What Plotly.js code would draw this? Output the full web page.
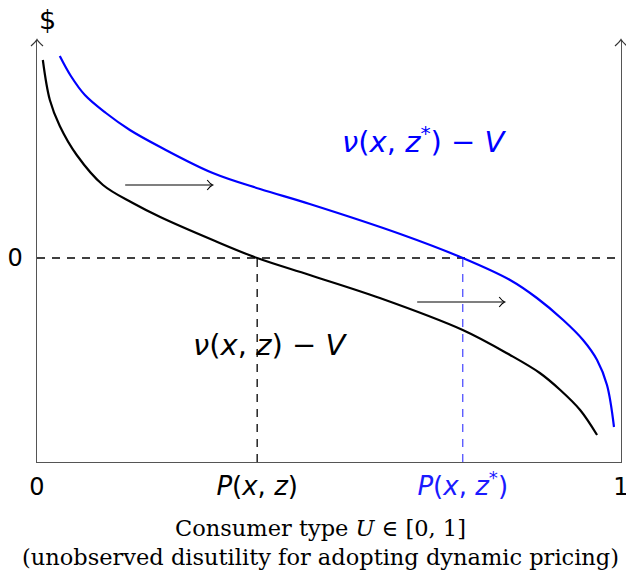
<!DOCTYPE html>
<html>
<head>
<meta charset="utf-8">
<script src="https://cdn.plot.ly/plotly-3.0.1.min.js"></script>
<style>html,body{margin:0;padding:0;background:#fff;}#chart{width:626px;height:582px;}</style>
</head>
<body>
<div id="chart"></div>
<script>
// Consumer type U (0..1) and value (arbitrary units, 0 = break-even)
var baseU   = [0.010, 0.022, 0.039, 0.068, 0.113, 0.164, 0.211, 0.301, 0.377, 0.467, 0.587, 0.729, 0.810, 0.861, 0.896, 0.930, 0.959];
var baseVal = [1.98, 1.58, 1.32, 1.03, 0.73, 0.55, 0.41, 0.18, 0.00, -0.17, -0.40, -0.72, -0.97, -1.15, -1.32, -1.52, -1.77];
var shiftU   = [0.039, 0.058, 0.082, 0.118, 0.159, 0.211, 0.301, 0.382, 0.467, 0.622, 0.729, 0.810, 0.856, 0.901, 0.935, 0.959, 0.976, 0.988];
var shiftVal = [2.02, 1.82, 1.63, 1.45, 1.28, 1.11, 0.85, 0.69, 0.54, 0.24, 0.00, -0.22, -0.40, -0.62, -0.82, -1.02, -1.27, -1.69];
var cutoffs = [0.377, 0.729];            // P(x,z), P(x,z*)
var tickVals = [0, 0.377, 0.729, 1];
var tickText = ['0',
  '<span style="font-size:26px"><i>P</i>(<i>x</i>, <i>z</i>)</span>',
  '<span style="font-size:26px;color:#1a1aff"><i>P</i>(<i>x</i>, <i>z</i><sup>*</sup>)</span>',
  '1'];
var xTitle = 'Consumer type <i>U</i> ∈ [0, 1]<br>(unobserved disutility for adopting dynamic pricing)';
var shiftArrowsX0 = [0.151, 0.651];
var shiftArrowsX1 = [0.300, 0.800];
var shiftArrowsY  = [0.73, -0.44];

var BLUE = '#0000ff';
var AX = '#555555';
var MATH = 'DejaVu Sans';

var traces = [
  {x: baseU, y: baseVal, mode: 'lines', line: {color: '#000', width: 2.2, shape: 'spline', smoothing: 1}, hoverinfo: 'skip'},
  {x: shiftU, y: shiftVal, mode: 'lines', line: {color: BLUE, width: 2.2, shape: 'spline', smoothing: 1}, hoverinfo: 'skip'}
];

var shapes = [];
// zero line
shapes.push({type: 'line', xref: 'paper', yref: 'y', x0: 0, x1: 1, y0: 0, y1: 0, line: {color: '#000', width: 1.3, dash: '8px,7px'}, layer: 'below'});
// cutoff verticals
shapes.push({type: 'line', xref: 'x', yref: 'y', x0: cutoffs[0], x1: cutoffs[0], y0: -2.04, y1: 0, line: {color: '#000', width: 1.3, dash: '8px,7px'}});
shapes.push({type: 'line', xref: 'x', yref: 'y', x0: cutoffs[1], x1: cutoffs[1], y0: -2.04, y1: 0, line: {color: '#5050ff', width: 1.3, dash: '8px,7px'}});
// axis arrowheads (top of left and right axes)
[0, 1].forEach(function (px) {
  shapes.push({type: 'path', xref: 'paper', yref: 'paper', xsizemode: 'pixel', ysizemode: 'pixel', xanchor: px, yanchor: 1,
    path: 'M-6,-6 Q-1.5,-2 0,0.5 Q1.5,-2 6,-6', line: {color: '#333', width: 1.2}});
});
// shift arrows
for (var i = 0; i < shiftArrowsX0.length; i++) {
  shapes.push({type: 'line', xref: 'x', yref: 'y', x0: shiftArrowsX0[i], x1: shiftArrowsX1[i], y0: shiftArrowsY[i], y1: shiftArrowsY[i], line: {color: '#000', width: 1.1}});
  shapes.push({type: 'path', xref: 'x', yref: 'y', xsizemode: 'pixel', ysizemode: 'pixel', xanchor: shiftArrowsX1[i], yanchor: shiftArrowsY[i],
    path: 'M-5,5 Q-2,1 0.5,0 Q-2,-1 -5,-5', line: {color: '#000', width: 1.1}});
}

var annotations = [
  {xref: 'paper', yref: 'paper', x: 0, y: 1, yshift: 38, text: '$', showarrow: false, font: {family: MATH, size: 27, color: '#000'}},
  {xref: 'x', yref: 'y', x: 0.664, y: 1.18, text: '<i>ν</i>(<i>x</i>, <i>z</i><sup>*</sup>) − <i>V</i>', showarrow: false, font: {family: MATH, size: 29, color: BLUE}},
  {xref: 'x', yref: 'y', x: 0.399, y: -0.87, text: '<i>ν</i>(<i>x</i>, <i>z</i>) − <i>V</i>', showarrow: false, font: {family: MATH, size: 29, color: '#000'}},
  {xref: 'paper', yref: 'paper', x: 0.4846, y: 0, yanchor: 'middle', yshift: -80, text: xTitle, showarrow: false,
    font: {family: 'DejaVu Serif', size: 22.5, color: '#000'}}
];

var layout = {
  width: 626, height: 582,
  margin: {l: 37, r: 5, t: 40, b: 120, pad: 0},
  paper_bgcolor: '#fff', plot_bgcolor: '#fff',
  showlegend: false,
  xaxis: {
    range: [0, 1], showgrid: false, zeroline: false, showline: true, linecolor: AX, linewidth: 1.4,
    tickvals: tickVals, ticktext: tickText, ticks: '', ticklabelstandoff: 3, ticklabeloverflow: 'allow',
    tickfont: {family: MATH, size: 24, color: '#000'}
  },
  yaxis: {
    range: [-2.04, 2.18], showgrid: false, zeroline: false, showline: true, mirror: true, linecolor: AX, linewidth: 1.4,
    tickvals: [0], ticktext: ['0'], ticks: '', ticklabelstandoff: 8,
    tickfont: {family: MATH, size: 24, color: '#000'}
  },
  shapes: shapes,
  annotations: annotations
};

Plotly.newPlot('chart', traces, layout, {staticPlot: true, displayModeBar: false});
</script>
</body>
</html>
